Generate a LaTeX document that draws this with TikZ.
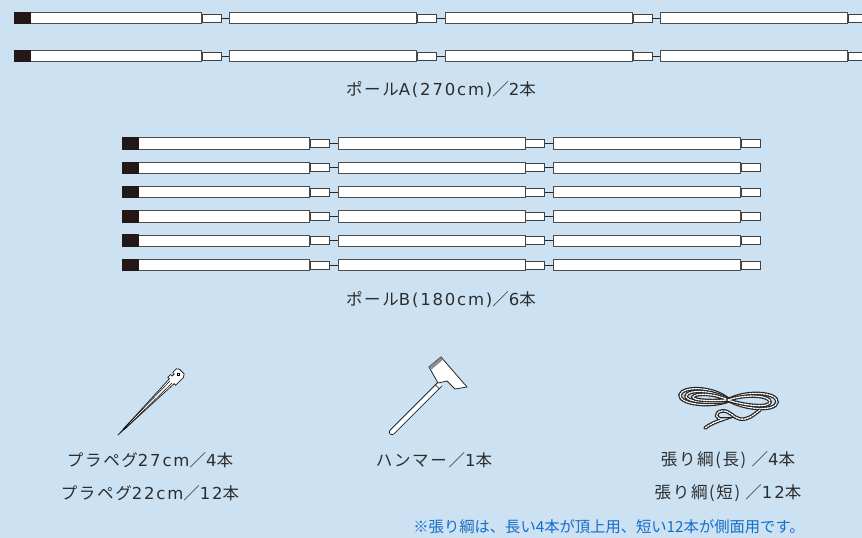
\documentclass[tikz,border=0pt]{standalone}
\usepackage{fontspec}
\setmainfont{Noto Sans CJK JP}[LetterSpace=10]
\newfontfamily\latnfont{DejaVu Sans}[Scale=1.0,LetterSpace=11]
\usetikzlibrary{positioning}
\definecolor{bgblue}{RGB}{204,225,241}
\definecolor{ink}{RGB}{45,45,45}
\definecolor{noteblue}{RGB}{20,110,200}
\definecolor{capblack}{RGB}{35,24,21}
\newcommand\latn[1]{{\latnfont #1}}

\begin{document}
\begin{tikzpicture}[x=1pt,y=-1pt,
  pole body/.style={rectangle,draw=black!70,fill=white,line width=0.9pt,anchor=west,
    minimum width=187pt,minimum height=11.5pt,inner sep=0pt},
  pole tip/.style={rectangle,draw=black!75,fill=white,line width=0.9pt,anchor=west,
    minimum width=19pt,minimum height=8pt,inner sep=0pt},
  pole cap/.style={rectangle,fill=capblack,anchor=west,minimum width=17pt,
    minimum height=12.5pt,inner sep=0pt},
  link/.style={draw=black!85,line width=0.9pt},
  tool/.style={draw=black!85,fill=white,line width=0.8pt,line join=round},
  rope/.style={draw=black!85,line width=3.6pt,line cap=round,
    postaction={draw=white,line width=1.3pt,dash pattern=on 1.6pt off 1.2pt}},
  item text/.style={text=ink,font=\fontsize{16.5}{33}\selectfont,align=center}]

  \fill[bgblue] (0,0) rectangle (862,538);
  \useasboundingbox (0,0) rectangle (862,538);

  % pole A, two of four sections
  \foreach \y [count=\r] in {18,56} {
    \foreach \s in {1,...,4} {
      \node[pole body] (a\r-\s) at ({14+215.3*(\s-1)},\y) {};
      \node[pole tip] (a\r-\s-t) at (a\r-\s.east) {};
    }
    \node[pole cap] (a\r-cap) at (a\r-1.west) {};
    \foreach \s in {2,3,4} {
      \pgfmathtruncatemacro\p{\s-1}
      \draw[link] (a\r-\p-t.east) -- (a\r-\s.west);
    }
  }
  \node[item text] (labA) at (441,90) {ポール\latn{A(270cm)}／\latn{2}本};

  % pole B, six of three sections
  \foreach \r in {1,...,6} {
    \pgfmathsetmacro\y{143.5+24.3*(\r-1)}
    \foreach \s in {1,2,3} {
      \node[pole body] (b\r-\s) at ({122+215.5*(\s-1)},\y) {};
      \node[pole tip] (b\r-\s-t) at (b\r-\s.east) {};
    }
    \node[pole cap] (b\r-cap) at (b\r-1.west) {};
    \foreach \s in {2,3} {
      \pgfmathtruncatemacro\p{\s-1}
      \draw[link] (b\r-\p-t.east) -- (b\r-\s.west);
    }
  }
  \node[item text] (labB) at (441,300) {ポール\latn{B(180cm)}／\latn{6}本};

  % peg
  \begin{scope}[shift={(118,435)},y=1pt,rotate=45]
    \draw[tool] (0,0) -- (76,3.4) -- (76,5.6) -- (80,5.6) -- (80,3.4) -- (83,3.4)
      -- (83,5.6) -- (88,5.6) -- (90,3) -- (90,-3.5) -- (87,-5.6) -- (76,-5.6)
      -- (76,-3.4) -- cycle;
    \draw[line width=0.5pt] (8,0.6) -- (75,1.4);
    \draw[line width=0.5pt] (8,-0.6) -- (75,-1.4);
    \draw[line width=0.7pt] (85.5,0) circle (1.5);
  \end{scope}
  \node[item text] (labPeg) at (150,476.5)
    {プラペグ\latn{27cm}／\latn{4}本\\プラペグ\latn{22cm}／\latn{12}本};

  % hammer
  \begin{scope}[shift={(392,432)},y=1pt,rotate=45]
    \draw[tool] (68,-2.7) -- (0,-2.7) arc (270:90:2.7) -- (68,2.7);
    \draw[line width=0.6pt] (64,-2.7) -- (64,2.7);
  \end{scope}
  \draw[tool] (429,367) -- (441,357) -- (467,387) -- (455,389) -- (447,381)
    -- (438,383) -- cycle;
  \fill[black!45] (429.5,366.5) -- (440.8,357.5) -- (442.8,359.8) -- (431.4,369.5) -- cycle;
  \node[item text] (labHam) at (434,460) {ハンマー／\latn{1}本};

  % guy rope
  \draw[rope] (728,399) .. controls (712,386) and (682,386) .. (680,395)
    .. controls (679,404) and (710,408) .. (728,401);
  \draw[rope] (728,399) .. controls (712,390) and (688,389) .. (686,396)
    .. controls (685,402) and (712,404) .. (728,401);
  \draw[rope] (728,400) .. controls (714,393) and (695,393) .. (693,397)
    .. controls (693,401) and (714,401) .. (728,400);
  \draw[rope] (728,400) .. controls (745,390) and (778,392) .. (777,402)
    .. controls (776,412) and (745,410) .. (728,400);
  \draw[rope] (728,400) .. controls (745,394) and (770,395) .. (770,402)
    .. controls (770,408) and (745,406) .. (728,400);
  \draw[rope] (760,410) .. controls (752,416) and (748,420) .. (740,419)
    .. controls (733,418) and (730,410) .. (722,411)
    .. controls (714,412) and (715,420) .. (724,419)
    .. controls (718,421) and (710,424) .. (705,428);
  \node[item text] (labRope) at (728,476.5)
    {張り綱(長) ／\latn{4}本\\張り綱(短) ／\latn{12}本};

  \node[text=noteblue,font=\fontsize{15.3}{17}\selectfont\addfontfeature{LetterSpace=0}] (note)
    at (609,527) {※張り綱は、長い4本が頂上用、短い12本が側面用です。};
\end{tikzpicture}
\end{document}
